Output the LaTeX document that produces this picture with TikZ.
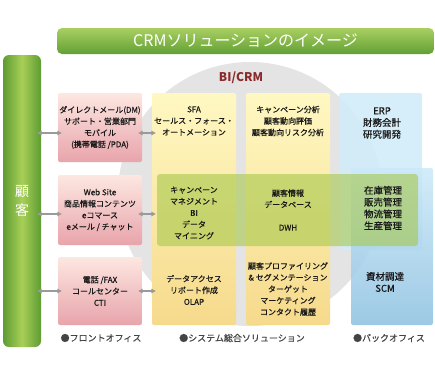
\documentclass[tikz,border=0pt]{standalone}
\usepackage{fontspec}
\setmainfont{Noto Sans CJK JP}
\newfontfamily\boxfont{Noto Sans CJK JP}[FakeBold=0.6]
\usetikzlibrary{arrows.meta}
\definecolor{titletop}{HTML}{A9CF62}
\definecolor{titlebot}{HTML}{62A034}
\definecolor{barside}{HTML}{5E9C33}
\definecolor{barmid}{HTML}{A8CF57}
\definecolor{circlegray}{HTML}{E4E4E4}
\definecolor{pinktop}{HTML}{FDE7E1}
\definecolor{pinkbot}{HTML}{E8A4AB}
\definecolor{yellowtop}{HTML}{FFF8C2}
\definecolor{yellowbot}{HTML}{F6DA8C}
\definecolor{bluelight}{HTML}{D2ECFA}
\definecolor{bluetop}{HTML}{CBE9F9}
\definecolor{bluebot}{HTML}{8CC0E0}
\definecolor{bandgreen}{HTML}{A6C84A}
\definecolor{bicrm}{HTML}{8B2A2A}
\definecolor{legendgray}{HTML}{444444}
\definecolor{arrowgray}{HTML}{9A9A9A}
\tikzset{
  boxtext/.style={align=center, text=black!90, font=\boxfont\fontsize{8}{11.5}\selectfont},
  backtext/.style={boxtext, font=\boxfont\fontsize{9.5}{11.8}\selectfont},
  frontbox/.style={boxtext, rounded corners=2pt, top color=pinktop, bottom color=pinkbot, minimum width=84pt, inner sep=0pt},
  sysbox/.style={rounded corners=2pt, top color=yellowtop, bottom color=yellowbot, minimum width=84pt, minimum height=232pt, inner sep=0pt},
  legend/.style={text=legendgray, font=\boxfont\fontsize{9}{11}\selectfont},
  link/.style={<->, >={Triangle[width=4.5pt,length=4.5pt]}, draw=arrowgray, line width=1.1pt, shorten <=-4pt, shorten >=-4pt}
}
\begin{document}
\begin{tikzpicture}[x=1pt, y=-1pt]
\useasboundingbox (0,0) rectangle (435,388);
\fill[circlegray] (250,194) circle [radius=132pt];
\node[rounded corners=5pt, top color=titletop, bottom color=titlebot, minimum width=377pt, minimum height=26pt, inner sep=0pt, text=white, font=\fontsize{16}{18}\selectfont] (title) at (245.5,41) {CRMソリューションのイメージ\hspace{10pt}};
\node[rounded corners=6pt, left color=barside, right color=barside, middle color=barmid, minimum width=38pt, minimum height=292pt, inner sep=0pt, align=center, text=white, font=\fontsize{14}{19}\selectfont] (cust) at (22,201) {顧\\客};
\node[text=bicrm, font=\bfseries\fontsize{12}{14}\selectfont] (bi) at (241,78) {BI/CRM};
\node[frontbox, minimum height=69pt] (front1) at (100,127.5) {ダイレクトメール(DM)\\サポート・営業部門\\モバイル\\(携帯電話 /PDA)};
\node[frontbox, minimum height=70pt] (front2) at (100,210) {Web Site\\商品情報コンテンツ\\eコマース\\eメール / チャット};
\node[frontbox, minimum height=68pt] (front3) at (100,291) {電話 /FAX\\コールセンター\\CTI};
\node[sysbox] (colA) at (194,209) {};
\node[sysbox] (colB) at (288,209) {};
\node[rounded corners=2pt, fill=bluelight, fill opacity=.9, minimum width=83pt, minimum height=157pt, inner sep=0pt] (erpbox) at (380.5,171.5) {};
\node[rounded corners=2pt, top color=bluetop, bottom color=bluebot, opacity=.85, minimum width=82pt, minimum height=157pt, inner sep=0pt] (scmbox) at (392,246.5) {};
\node[rounded corners=3pt, fill=bandgreen, fill opacity=.6, minimum width=261pt, minimum height=72pt, inner sep=0pt] (band) at (287.5,210) {};
\node[boxtext] (sfa) at (194,121) {SFA\\セールス・フォース・\\オートメーション};
\node[boxtext] (campaign) at (194,213) {キャンペーン\\マネジメント\\BI\\データ\\マイニング};
\node[boxtext] (access) at (194,290) {データアクセス\\リポート作成\\OLAP};
\node[boxtext] (analysis) at (288,121) {キャンペーン分析\\顧客動向評価\\顧客動向リスク分析};
\node[boxtext] (dbase) at (288,210) {顧客情報\\データベース\\[11.5pt]DWH};
\node[boxtext] (profiling) at (288,289) {顧客プロファイリング\\\& セグメンテーション\\ターゲット\\マーケティング\\コンタクト履歴};
\node[backtext] (erp) at (382,123) {ERP\\財務会計\\研究開発};
\node[backtext] (inventory) at (383,208) {在庫管理\\販売管理\\物流管理\\生産管理};
\node[backtext] (scm) at (385,282) {資材調達\\SCM};
\coordinate (a1) at ([yshift=-5.5pt]front1.west);
\coordinate (a2) at ([yshift=-4pt]front2.west);
\coordinate (a3) at (front3.west);
\draw[link] (a1 -| cust.east) -- (a1);
\draw[link] (a2 -| cust.east) -- (a2);
\draw[link] (a3 -| cust.east) -- (a3);
\draw[link] (a1 -| front1.east) -- (a1 -| colA.west);
\draw[link] (a2 -| front2.east) -- (a2 -| colA.west);
\draw[link] (a3 -| front3.east) -- (a3 -| colA.west);
\node[legend] (frontlab) at (101,338) {●フロントオフィス};
\node[legend] (syslab) at (242,338) {●システム総合ソリューション};
\node[legend] (backlab) at (389,338) {●バックオフィス};
\end{tikzpicture}
\end{document}
